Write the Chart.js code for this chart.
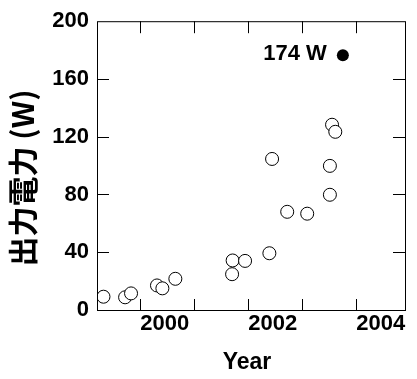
<!DOCTYPE html>
<html>
<head>
<meta charset="utf-8">
<script src="https://cdn.jsdelivr.net/npm/chart.js@4"></script>
<style>
  html, body { margin: 0; padding: 0; background: #fff; }
  #wrap { width: 417px; height: 379px; }
</style>
</head>
<body>
<div id="wrap"><canvas id="myChart"></canvas></div>
<script>
// data
const years = [1999.32, 1999.72, 1999.83, 2000.31, 2000.41, 2000.65, 2001.70, 2001.71, 2001.94,
               2002.39, 2002.44, 2002.72, 2003.09, 2003.55, 2003.61, 2003.51, 2003.51];
const watts = [9.2, 8.8, 11.5, 17.0, 15.0, 21.6, 24.8, 34.3, 34.0,
               39.3, 104.6, 68.0, 66.7, 128.3, 123.4, 99.8, 79.8];
const peakYears = [2003.75];
const peakWatts = [176.5];
const peakLabel = '174 W';

const xTicks = [2000, 2001, 2002, 2003, 2004];
const xLabelEvery = 2;
const yTicks = [0, 40, 80, 120, 160, 200];
const xTitle = 'Year';
const yTitle = '出力電力 (W)';

const numFont = "'Liberation Sans', Arial, sans-serif";
const cjkFont = "'Noto Sans CJK JP', 'Noto Sans CJK SC', sans-serif";

// frame, inward ticks, axis titles and the peak label
const framePlugin = {
    id: 'framePlugin',
    afterDraw(chart) {
        const { ctx, chartArea: a, scales } = chart;
        ctx.save();
        ctx.strokeStyle = '#000';
        ctx.lineWidth = 1;
        ctx.strokeRect(a.left + 0.5, a.top + 0.5, a.right - a.left, a.bottom - a.top);

        ctx.beginPath();
        scales.x.ticks.forEach(t => {
            const px = Math.round(scales.x.getPixelForValue(t.value)) + 0.5;
            ctx.moveTo(px, a.bottom); ctx.lineTo(px, a.bottom - 11);
            ctx.moveTo(px, a.top); ctx.lineTo(px, a.top + 12);
        });
        scales.y.ticks.forEach(t => {
            if (t.value === 0 || t.value === 200) return;
            const py = Math.round(scales.y.getPixelForValue(t.value)) + 0.5;
            ctx.moveTo(a.left, py); ctx.lineTo(a.left + 12, py);
            ctx.moveTo(a.right, py); ctx.lineTo(a.right - 12, py);
        });
        ctx.stroke();

        ctx.fillStyle = '#000';
        ctx.font = 'bold 23px ' + numFont;
        ctx.textAlign = 'center';
        ctx.textBaseline = 'middle';
        ctx.fillText(xTitle, (a.left + a.right) / 2 - 4, a.bottom + 53);

        const pt = chart.getDatasetMeta(1).data[0];
        ctx.font = 'bold 22px ' + numFont;
        ctx.textAlign = 'right';
        ctx.fillText(peakLabel, pt.x - 16, pt.y - 1);

        ctx.translate(23, 178);
        ctx.rotate(-Math.PI / 2);
        ctx.font = 'bold 30px ' + cjkFont;
        ctx.textAlign = 'center';
        ctx.fillText(yTitle, 0, 0);
        ctx.restore();
    }
};

const ctx = document.getElementById('myChart').getContext('2d');

new Chart(ctx, {
    type: 'scatter',
    data: {
        datasets: [{
            data: years.map((x, i) => ({ x: x, y: watts[i] })),
            pointRadius: 6.5,
            pointBorderWidth: 1,
            borderColor: '#000',
            backgroundColor: '#fff',
        }, {
            data: peakYears.map((x, i) => ({ x: x, y: peakWatts[i] })),
            pointRadius: 6,
            pointBorderWidth: 0,
            borderColor: '#000',
            backgroundColor: '#000',
        }]
    },
    options: {
        responsive: true,
        maintainAspectRatio: false,
        animation: false,
        layout: { padding: { top: 20, right: 12, left: 0, bottom: 0 } },
        plugins: { legend: { display: false }, tooltip: { enabled: false } },
        scales: {
            x: {
                type: 'linear',
                min: 1999.2,
                max: 2004.9,
                afterBuildTicks: s => { s.ticks = xTicks.map(v => ({ value: v })); },
                afterFit: s => { s.height = 69; },
                grid: { display: false, drawTicks: false },
                border: { display: false },
                ticks: {
                    autoSkip: false,
                    maxRotation: 0,
                    align: 'start',
                    padding: 1,
                    color: '#000',
                    font: { family: numFont, size: 22, weight: 'bold' },
                    callback: v => (v % xLabelEvery === 0 ? String(v) : ''),
                }
            },
            y: {
                min: 0,
                max: 200,
                afterBuildTicks: s => { s.ticks = yTicks.map(v => ({ value: v })); },
                afterFit: s => { s.width = 97; },
                grid: { display: false, drawTicks: false },
                border: { display: false },
                ticks: {
                    padding: 8,
                    color: '#000',
                    font: { family: numFont, size: 22, weight: 'bold' },
                }
            }
        }
    },
    plugins: [framePlugin]
});
</script>
</body>
</html>
